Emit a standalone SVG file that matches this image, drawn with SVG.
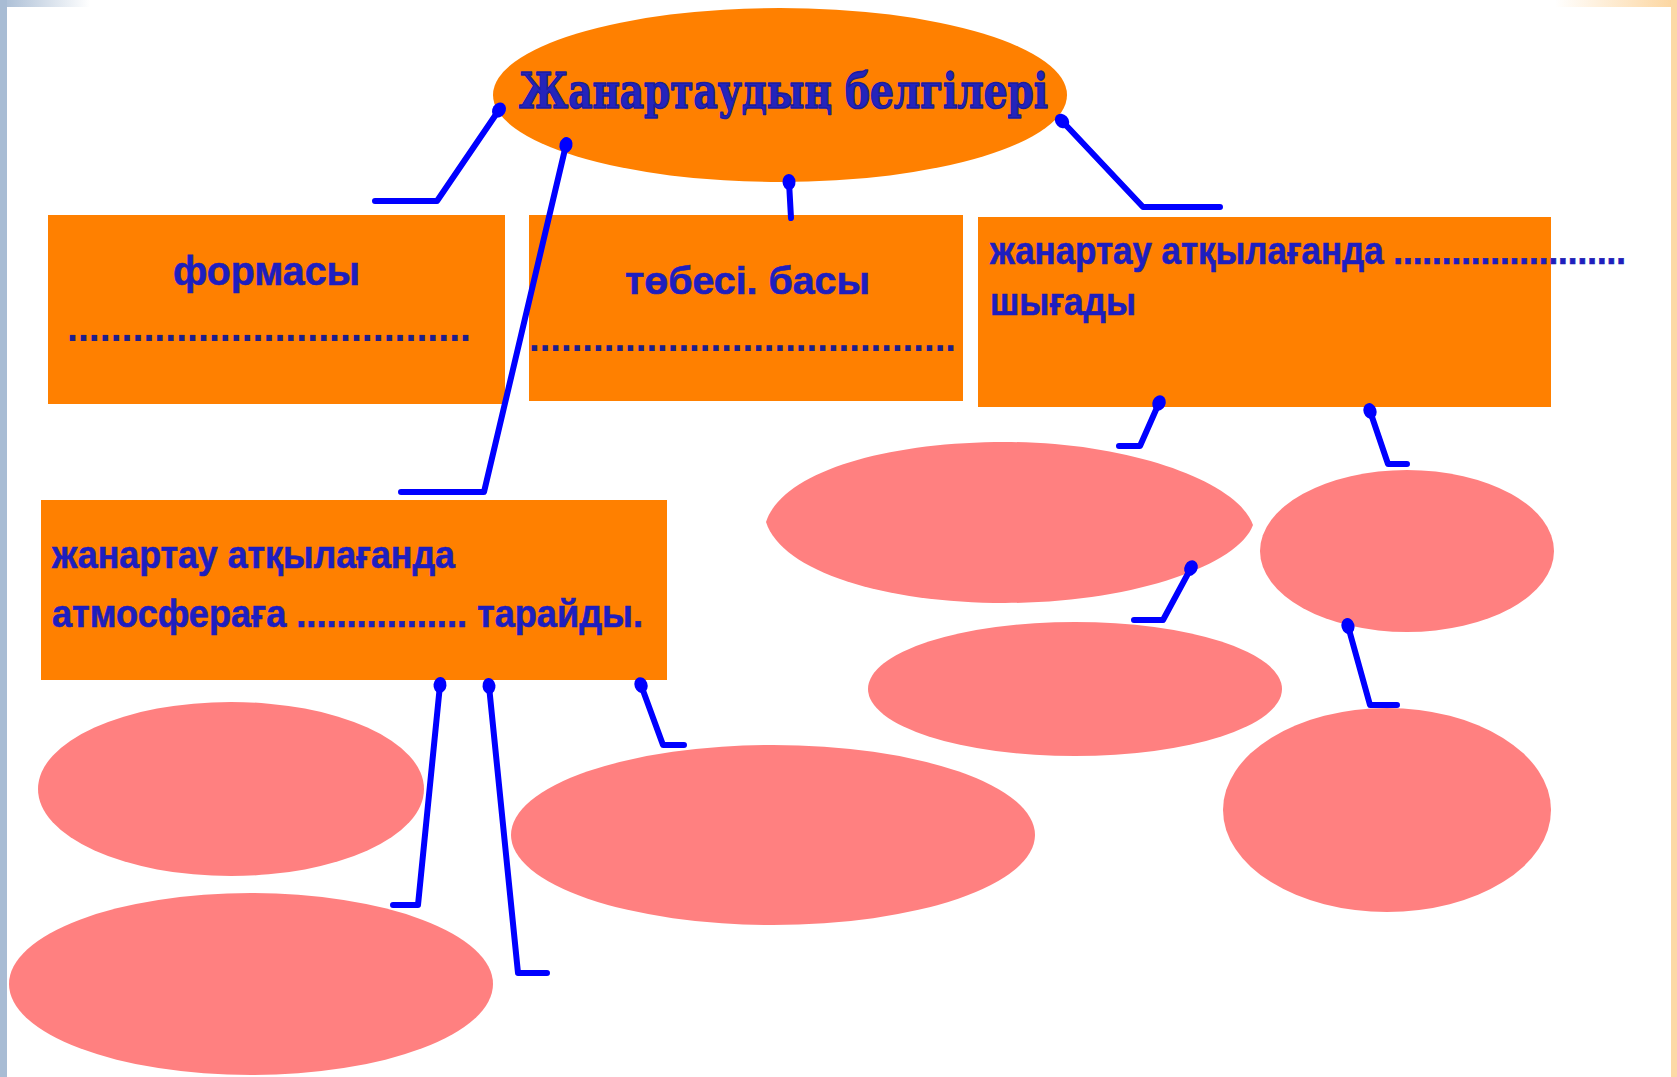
<svg xmlns="http://www.w3.org/2000/svg" width="1677" height="1077" viewBox="0 0 1677 1077">
<defs>
<linearGradient id="gl" x1="0" y1="0" x2="1" y2="0"><stop offset="0" stop-color="#A8BCD4"/><stop offset="1" stop-color="#A8BCD4" stop-opacity="0"/></linearGradient>
<linearGradient id="gr" x1="0" y1="0" x2="1" y2="0"><stop offset="0" stop-color="#FCD59E" stop-opacity="0"/><stop offset="1" stop-color="#FCD59E"/></linearGradient>
<marker id="dot" markerUnits="userSpaceOnUse" markerWidth="20" markerHeight="20" refX="10" refY="10" orient="auto"><ellipse cx="10" cy="10" rx="8" ry="6.5" fill="#0000FF"/></marker>
</defs>
<style>
.org{fill:#FF8000}
.pink{fill:#FF8080}
.t{font-family:"Liberation Sans",Arial,sans-serif;font-weight:bold;fill:#1E1EC0;stroke:#1E1EB0;stroke-width:0.6}
.d{font-family:"Liberation Sans",Arial,sans-serif;font-weight:bold;fill:#1E1E8C}
.title{font-family:"DejaVu Serif","Liberation Serif",serif;font-weight:bold;fill:#2424BC;stroke:#1C1C9C;stroke-width:1.6;stroke-linejoin:round}
.c{fill:none;stroke:#0000FF;stroke-width:6;stroke-linecap:round;stroke-linejoin:round;marker-start:url(#dot)}
</style>
<rect width="1677" height="1077" fill="#FFFFFF"/>
<g id="frame">
<rect x="0" y="0" width="7" height="1077" fill="#A8BCD4"/>
<rect x="0" y="0" width="90" height="7" fill="url(#gl)"/>
<rect x="1555" y="0" width="122" height="7" fill="url(#gr)"/>
<rect x="1671" y="0" width="6" height="1077" fill="#FCD9A6"/>
</g>
<g id="title">
<ellipse cx="780" cy="95" rx="287" ry="87" class="org"/>
<text x="519" y="108" class="title" font-size="48" textLength="529" lengthAdjust="spacingAndGlyphs">Жанартаудың белгілері</text>
</g>
<g id="box-formasy">
<rect x="48" y="215" width="457" height="189" class="org"/>
<text x="173" y="285" class="t" font-size="40" textLength="187" lengthAdjust="spacingAndGlyphs">формасы</text>
<text x="67" y="341" class="d" font-size="40" textLength="404" lengthAdjust="spacingAndGlyphs">.....................................</text>
</g>
<g id="box-tobesi">
<rect x="529" y="215" width="434" height="186" class="org"/>
<text x="625" y="294" class="t" font-size="38" textLength="245" lengthAdjust="spacingAndGlyphs">төбесі. басы</text>
<text x="529" y="351" class="d" font-size="38" textLength="427" lengthAdjust="spacingAndGlyphs">........................................</text>
</g>
<g id="box-shygady">
<rect x="978" y="217" width="573" height="190" class="org"/>
<text x="990" y="264" class="t" font-size="38" textLength="636" lengthAdjust="spacingAndGlyphs">жанартау атқылағанда ........................</text>
<text x="990" y="315" class="t" font-size="38" textLength="146" lengthAdjust="spacingAndGlyphs">шығады</text>
</g>
<g id="box-taraidy">
<rect x="41" y="500" width="626" height="180" class="org"/>
<text x="52" y="568" class="t" font-size="38" textLength="403" lengthAdjust="spacingAndGlyphs">жанартау атқылағанда</text>
<text x="52" y="627" class="t" font-size="38" textLength="591" lengthAdjust="spacingAndGlyphs">атмосфераға ................. тарайды.</text>
</g>
<g id="e1"><path class="pink" d="M766,522 C782,472 885,442 1005,442 C1130,442 1238,482 1253,525 C1238,566 1130,603 1005,603 C885,603 782,572 766,522 Z"/></g>
<g id="e2"><ellipse class="pink" cx="1407" cy="551" rx="147" ry="81"/></g>
<g id="e3"><ellipse class="pink" cx="1075" cy="689" rx="207" ry="67"/></g>
<g id="e4"><ellipse class="pink" cx="1387" cy="810" rx="164" ry="102"/></g>
<g id="e5"><ellipse class="pink" cx="773" cy="835" rx="262" ry="90"/></g>
<g id="e6"><ellipse class="pink" cx="231" cy="789" rx="193" ry="87"/></g>
<g id="e7"><ellipse class="pink" cx="251" cy="984" rx="242" ry="91"/></g>
<g id="connectors">
<path class="c" d="M499,110 L437,201 L375,201"/>
<path class="c" d="M566,145 L484,492 L401,492"/>
<path class="c" d="M789,182 L791,218"/>
<path class="c" d="M1062,121 L1143,207 L1220,207"/>
<path class="c" d="M1159,403 L1140,446 L1119,446"/>
<path class="c" d="M1370,411 L1388,464 L1407,464"/>
<path class="c" d="M1191,568 L1163,620 L1134,620"/>
<path class="c" d="M1348,626 L1370,705 L1397,705"/>
<path class="c" d="M440,685 L418,905 L393,905"/>
<path class="c" d="M489,686 L518,973 L547,973"/>
<path class="c" d="M641,685 L663,745 L684,745"/>
</g>
</svg>
